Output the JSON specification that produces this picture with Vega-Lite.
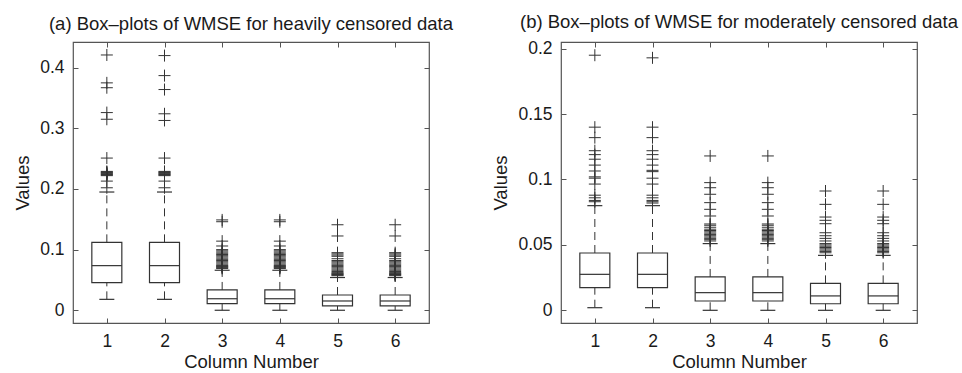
{
  "$schema": "https://vega.github.io/schema/vega-lite/v6.json",
  "background": "white",
  "padding": {"left": 13, "top": 12, "right": 5, "bottom": 5},
  "bounds": "flush",
  "spacing": 132,
  "config": {
    "font": "Liberation Sans",
    "view": {"stroke": "#555", "strokeWidth": 1.2},
    "axis": {
      "labelFont": "Liberation Sans", "labelFontSize": 17.5, "labelColor": "#1a1a1a",
      "titleFont": "Liberation Sans", "titleFontSize": 18.5, "titleColor": "#1a1a1a", "titleFontWeight": "normal",
      "domain": false, "grid": false, "tickColor": "#555", "tickSize": -5, "tickWidth": 1
    },
    "title": {"font": "Liberation Sans", "fontSize": 18.5, "fontWeight": "normal", "color": "#1a1a1a", "baseline": "alphabetic", "offset": 8, "anchor": "middle"}
  },
  "datasets": {
    "boxA": [
      {"col": 1, "lower": 0.018, "q1": 0.0455, "median": 0.0736, "q3": 0.112, "upper": 0.195},
      {"col": 2, "lower": 0.018, "q1": 0.0455, "median": 0.0736, "q3": 0.112, "upper": 0.195},
      {"col": 3, "lower": 0.0, "q1": 0.011, "median": 0.019, "q3": 0.0335, "upper": 0.066},
      {"col": 4, "lower": 0.0, "q1": 0.011, "median": 0.019, "q3": 0.0335, "upper": 0.066},
      {"col": 5, "lower": 0.0, "q1": 0.0071, "median": 0.0153, "q3": 0.0252, "upper": 0.054},
      {"col": 6, "lower": 0.0, "q1": 0.0071, "median": 0.0153, "q3": 0.0252, "upper": 0.054}
    ],
    "outA": [
      {"col": 1, "value": 0.421}, {"col": 1, "value": 0.375}, {"col": 1, "value": 0.367}, {"col": 1, "value": 0.326}, {"col": 1, "value": 0.315}, {"col": 1, "value": 0.251}, {"col": 1, "value": 0.229}, {"col": 1, "value": 0.228}, {"col": 1, "value": 0.227}, {"col": 1, "value": 0.226}, {"col": 1, "value": 0.225}, {"col": 1, "value": 0.224}, {"col": 1, "value": 0.223}, {"col": 1, "value": 0.222}, {"col": 1, "value": 0.213}, {"col": 1, "value": 0.202},
      {"col": 2, "value": 0.420}, {"col": 2, "value": 0.387}, {"col": 2, "value": 0.364}, {"col": 2, "value": 0.324}, {"col": 2, "value": 0.313}, {"col": 2, "value": 0.251}, {"col": 2, "value": 0.229}, {"col": 2, "value": 0.228}, {"col": 2, "value": 0.227}, {"col": 2, "value": 0.226}, {"col": 2, "value": 0.225}, {"col": 2, "value": 0.224}, {"col": 2, "value": 0.223}, {"col": 2, "value": 0.222}, {"col": 2, "value": 0.213}, {"col": 2, "value": 0.202},
      {"col": 3, "value": 0.149}, {"col": 3, "value": 0.146}, {"col": 3, "value": 0.114}, {"col": 3, "value": 0.106}, {"col": 3, "value": 0.100}, {"col": 3, "value": 0.098}, {"col": 3, "value": 0.096}, {"col": 3, "value": 0.094}, {"col": 3, "value": 0.092}, {"col": 3, "value": 0.090}, {"col": 3, "value": 0.088}, {"col": 3, "value": 0.086}, {"col": 3, "value": 0.084}, {"col": 3, "value": 0.082}, {"col": 3, "value": 0.080}, {"col": 3, "value": 0.078}, {"col": 3, "value": 0.076}, {"col": 3, "value": 0.074}, {"col": 3, "value": 0.073}, {"col": 3, "value": 0.072}, {"col": 3, "value": 0.071}, {"col": 3, "value": 0.070}, {"col": 3, "value": 0.069},
      {"col": 4, "value": 0.149}, {"col": 4, "value": 0.146}, {"col": 4, "value": 0.114}, {"col": 4, "value": 0.106}, {"col": 4, "value": 0.100}, {"col": 4, "value": 0.098}, {"col": 4, "value": 0.096}, {"col": 4, "value": 0.094}, {"col": 4, "value": 0.092}, {"col": 4, "value": 0.090}, {"col": 4, "value": 0.088}, {"col": 4, "value": 0.086}, {"col": 4, "value": 0.084}, {"col": 4, "value": 0.082}, {"col": 4, "value": 0.080}, {"col": 4, "value": 0.078}, {"col": 4, "value": 0.076}, {"col": 4, "value": 0.074}, {"col": 4, "value": 0.073}, {"col": 4, "value": 0.072}, {"col": 4, "value": 0.071}, {"col": 4, "value": 0.070}, {"col": 4, "value": 0.069},
      {"col": 5, "value": 0.141}, {"col": 5, "value": 0.1225}, {"col": 5, "value": 0.095}, {"col": 5, "value": 0.093}, {"col": 5, "value": 0.091}, {"col": 5, "value": 0.089}, {"col": 5, "value": 0.085}, {"col": 5, "value": 0.082}, {"col": 5, "value": 0.080}, {"col": 5, "value": 0.078}, {"col": 5, "value": 0.076}, {"col": 5, "value": 0.074}, {"col": 5, "value": 0.072}, {"col": 5, "value": 0.070}, {"col": 5, "value": 0.068}, {"col": 5, "value": 0.066}, {"col": 5, "value": 0.064}, {"col": 5, "value": 0.062}, {"col": 5, "value": 0.061}, {"col": 5, "value": 0.060}, {"col": 5, "value": 0.059}, {"col": 5, "value": 0.058}, {"col": 5, "value": 0.057},
      {"col": 6, "value": 0.141}, {"col": 6, "value": 0.1225}, {"col": 6, "value": 0.095}, {"col": 6, "value": 0.093}, {"col": 6, "value": 0.091}, {"col": 6, "value": 0.089}, {"col": 6, "value": 0.085}, {"col": 6, "value": 0.082}, {"col": 6, "value": 0.080}, {"col": 6, "value": 0.078}, {"col": 6, "value": 0.076}, {"col": 6, "value": 0.074}, {"col": 6, "value": 0.072}, {"col": 6, "value": 0.070}, {"col": 6, "value": 0.068}, {"col": 6, "value": 0.066}, {"col": 6, "value": 0.064}, {"col": 6, "value": 0.062}, {"col": 6, "value": 0.061}, {"col": 6, "value": 0.060}, {"col": 6, "value": 0.059}, {"col": 6, "value": 0.058}, {"col": 6, "value": 0.057}
    ],
    "boxB": [
      {"col": 1, "lower": 0.002, "q1": 0.0173, "median": 0.0275, "q3": 0.0438, "upper": 0.080},
      {"col": 2, "lower": 0.002, "q1": 0.0173, "median": 0.0275, "q3": 0.0438, "upper": 0.080},
      {"col": 3, "lower": 0.0, "q1": 0.0071, "median": 0.0135, "q3": 0.0255, "upper": 0.051},
      {"col": 4, "lower": 0.0, "q1": 0.0071, "median": 0.0135, "q3": 0.0255, "upper": 0.051},
      {"col": 5, "lower": 0.0, "q1": 0.005, "median": 0.011, "q3": 0.0206, "upper": 0.042},
      {"col": 6, "lower": 0.0, "q1": 0.005, "median": 0.011, "q3": 0.0206, "upper": 0.042}
    ],
    "outB": [
      {"col": 1, "value": 0.195}, {"col": 1, "value": 0.140}, {"col": 1, "value": 0.132}, {"col": 1, "value": 0.122}, {"col": 1, "value": 0.119}, {"col": 1, "value": 0.1155}, {"col": 1, "value": 0.111}, {"col": 1, "value": 0.1065}, {"col": 1, "value": 0.102}, {"col": 1, "value": 0.101}, {"col": 1, "value": 0.0965}, {"col": 1, "value": 0.088}, {"col": 1, "value": 0.086}, {"col": 1, "value": 0.084}, {"col": 1, "value": 0.083},
      {"col": 2, "value": 0.193}, {"col": 2, "value": 0.140}, {"col": 2, "value": 0.132}, {"col": 2, "value": 0.122}, {"col": 2, "value": 0.119}, {"col": 2, "value": 0.1155}, {"col": 2, "value": 0.111}, {"col": 2, "value": 0.107}, {"col": 2, "value": 0.106}, {"col": 2, "value": 0.101}, {"col": 2, "value": 0.0965}, {"col": 2, "value": 0.088}, {"col": 2, "value": 0.086}, {"col": 2, "value": 0.084}, {"col": 2, "value": 0.083}, {"col": 2, "value": 0.082},
      {"col": 3, "value": 0.118}, {"col": 3, "value": 0.0976}, {"col": 3, "value": 0.0937}, {"col": 3, "value": 0.0887}, {"col": 3, "value": 0.0823}, {"col": 3, "value": 0.0772}, {"col": 3, "value": 0.0721}, {"col": 3, "value": 0.066}, {"col": 3, "value": 0.065}, {"col": 3, "value": 0.0635}, {"col": 3, "value": 0.062}, {"col": 3, "value": 0.061}, {"col": 3, "value": 0.060}, {"col": 3, "value": 0.059}, {"col": 3, "value": 0.058}, {"col": 3, "value": 0.057}, {"col": 3, "value": 0.056}, {"col": 3, "value": 0.055}, {"col": 3, "value": 0.054}, {"col": 3, "value": 0.053},
      {"col": 4, "value": 0.118}, {"col": 4, "value": 0.0976}, {"col": 4, "value": 0.0937}, {"col": 4, "value": 0.0887}, {"col": 4, "value": 0.0823}, {"col": 4, "value": 0.0772}, {"col": 4, "value": 0.0721}, {"col": 4, "value": 0.066}, {"col": 4, "value": 0.065}, {"col": 4, "value": 0.0635}, {"col": 4, "value": 0.062}, {"col": 4, "value": 0.061}, {"col": 4, "value": 0.060}, {"col": 4, "value": 0.059}, {"col": 4, "value": 0.058}, {"col": 4, "value": 0.057}, {"col": 4, "value": 0.056}, {"col": 4, "value": 0.055}, {"col": 4, "value": 0.054}, {"col": 4, "value": 0.053},
      {"col": 5, "value": 0.0912}, {"col": 5, "value": 0.081}, {"col": 5, "value": 0.0713}, {"col": 5, "value": 0.0688}, {"col": 5, "value": 0.0662}, {"col": 5, "value": 0.0593}, {"col": 5, "value": 0.057}, {"col": 5, "value": 0.055}, {"col": 5, "value": 0.053}, {"col": 5, "value": 0.051}, {"col": 5, "value": 0.050}, {"col": 5, "value": 0.049}, {"col": 5, "value": 0.048}, {"col": 5, "value": 0.047}, {"col": 5, "value": 0.046}, {"col": 5, "value": 0.045}, {"col": 5, "value": 0.044},
      {"col": 6, "value": 0.0912}, {"col": 6, "value": 0.081}, {"col": 6, "value": 0.0713}, {"col": 6, "value": 0.0688}, {"col": 6, "value": 0.0662}, {"col": 6, "value": 0.0593}, {"col": 6, "value": 0.057}, {"col": 6, "value": 0.055}, {"col": 6, "value": 0.053}, {"col": 6, "value": 0.051}, {"col": 6, "value": 0.050}, {"col": 6, "value": 0.049}, {"col": 6, "value": 0.048}, {"col": 6, "value": 0.047}, {"col": 6, "value": 0.046}, {"col": 6, "value": 0.045}, {"col": 6, "value": 0.044}
    ]
  },
  "hconcat": [
    {
      "width": 356, "height": 281,
      "title": {"text": "(a) Box–plots of WMSE for heavily censored data"},
      "resolve": {"axis": {"x": "independent", "y": "independent"}},
      "layer": [
        {
          "data": {"name": "boxA"},
          "mark": {"type": "bar", "size": 30, "fill": "white", "stroke": "#333", "strokeWidth": 1.2},
          "encoding": {
            "x": {"field": "col", "type": "quantitative", "scale": {"domain": [0.5, 6.5], "nice": false, "zero": false},
                  "axis": {"orient": "bottom", "values": [1, 2, 3, 4, 5, 6], "format": "d", "title": "Column Number", "labelPadding": 14, "titlePadding": 3}},
            "y": {"field": "q1", "type": "quantitative", "scale": {"domain": [-0.021, 0.4424], "nice": false, "zero": false},
                  "axis": {"orient": "left", "values": [0, 0.1, 0.2, 0.3, 0.4], "format": "~g", "title": "Values", "labelPadding": 14, "titlePadding": 7}},
            "y2": {"field": "q3"}
          }
        },
        {
          "data": {"name": "outA"},
          "mark": {"type": "point", "shape": "M-1,0H1M0,-1V1", "size": 144, "filled": false, "stroke": "#333", "strokeWidth": 1, "opacity": 1},
          "encoding": {
            "x": {"field": "col", "type": "quantitative", "axis": {"orient": "top", "values": [1, 2, 3, 4, 5, 6], "labels": false, "title": null}},
            "y": {"field": "value", "type": "quantitative", "axis": {"orient": "right", "values": [0, 0.1, 0.2, 0.3, 0.4], "labels": false, "title": null}}
          }
        },
        {
          "data": {"name": "boxA"},
          "mark": {"type": "rule", "stroke": "#333", "strokeWidth": 1, "strokeDash": [8, 5]},
          "encoding": {
            "x": {"field": "col", "type": "quantitative", "axis": null},
            "y": {"field": "q3", "type": "quantitative", "axis": null},
            "y2": {"field": "upper"}
          }
        },
        {
          "data": {"name": "boxA"},
          "mark": {"type": "rule", "stroke": "#333", "strokeWidth": 1, "strokeDash": [8, 5]},
          "encoding": {
            "x": {"field": "col", "type": "quantitative", "axis": null},
            "y": {"field": "lower", "type": "quantitative", "axis": null},
            "y2": {"field": "q1"}
          }
        },
        {
          "data": {"name": "boxA"},
          "mark": {"type": "tick", "orient": "horizontal", "size": 30, "thickness": 1.2, "color": "#333", "opacity": 1},
          "encoding": {
            "x": {"field": "col", "type": "quantitative", "axis": null},
            "y": {"field": "median", "type": "quantitative", "axis": null}
          }
        },
        {
          "data": {"name": "boxA"},
          "mark": {"type": "tick", "orient": "horizontal", "size": 15, "thickness": 1.2, "color": "#333", "opacity": 1},
          "encoding": {
            "x": {"field": "col", "type": "quantitative", "axis": null},
            "y": {"field": "lower", "type": "quantitative", "axis": null}
          }
        },
        {
          "data": {"name": "boxA"},
          "mark": {"type": "tick", "orient": "horizontal", "size": 15, "thickness": 1.2, "color": "#333", "opacity": 1},
          "encoding": {
            "x": {"field": "col", "type": "quantitative", "axis": null},
            "y": {"field": "upper", "type": "quantitative", "axis": null}
          }
        }
      ]
    },
    {
      "width": 356, "height": 281,
      "title": {"text": "(b) Box–plots of WMSE for moderately censored data"},
      "resolve": {"axis": {"x": "independent", "y": "independent"}},
      "layer": [
        {
          "data": {"name": "boxB"},
          "mark": {"type": "bar", "size": 30, "fill": "white", "stroke": "#333", "strokeWidth": 1.2},
          "encoding": {
            "x": {"field": "col", "type": "quantitative", "scale": {"domain": [0.5, 6.5], "nice": false, "zero": false},
                  "axis": {"orient": "bottom", "values": [1, 2, 3, 4, 5, 6], "format": "d", "title": "Column Number", "labelPadding": 14, "titlePadding": 3}},
            "y": {"field": "q1", "type": "quantitative", "scale": {"domain": [-0.0097, 0.2051], "nice": false, "zero": false},
                  "axis": {"orient": "left", "values": [0, 0.05, 0.1, 0.15, 0.2], "format": "~g", "title": "Values", "labelPadding": 14, "titlePadding": 7}},
            "y2": {"field": "q3"}
          }
        },
        {
          "data": {"name": "outB"},
          "mark": {"type": "point", "shape": "M-1,0H1M0,-1V1", "size": 144, "filled": false, "stroke": "#333", "strokeWidth": 1, "opacity": 1},
          "encoding": {
            "x": {"field": "col", "type": "quantitative", "axis": {"orient": "top", "values": [1, 2, 3, 4, 5, 6], "labels": false, "title": null}},
            "y": {"field": "value", "type": "quantitative", "axis": {"orient": "right", "values": [0, 0.05, 0.1, 0.15, 0.2], "labels": false, "title": null}}
          }
        },
        {
          "data": {"name": "boxB"},
          "mark": {"type": "rule", "stroke": "#333", "strokeWidth": 1, "strokeDash": [8, 5]},
          "encoding": {
            "x": {"field": "col", "type": "quantitative", "axis": null},
            "y": {"field": "q3", "type": "quantitative", "axis": null},
            "y2": {"field": "upper"}
          }
        },
        {
          "data": {"name": "boxB"},
          "mark": {"type": "rule", "stroke": "#333", "strokeWidth": 1, "strokeDash": [8, 5]},
          "encoding": {
            "x": {"field": "col", "type": "quantitative", "axis": null},
            "y": {"field": "lower", "type": "quantitative", "axis": null},
            "y2": {"field": "q1"}
          }
        },
        {
          "data": {"name": "boxB"},
          "mark": {"type": "tick", "orient": "horizontal", "size": 30, "thickness": 1.2, "color": "#333", "opacity": 1},
          "encoding": {
            "x": {"field": "col", "type": "quantitative", "axis": null},
            "y": {"field": "median", "type": "quantitative", "axis": null}
          }
        },
        {
          "data": {"name": "boxB"},
          "mark": {"type": "tick", "orient": "horizontal", "size": 15, "thickness": 1.2, "color": "#333", "opacity": 1},
          "encoding": {
            "x": {"field": "col", "type": "quantitative", "axis": null},
            "y": {"field": "lower", "type": "quantitative", "axis": null}
          }
        },
        {
          "data": {"name": "boxB"},
          "mark": {"type": "tick", "orient": "horizontal", "size": 15, "thickness": 1.2, "color": "#333", "opacity": 1},
          "encoding": {
            "x": {"field": "col", "type": "quantitative", "axis": null},
            "y": {"field": "upper", "type": "quantitative", "axis": null}
          }
        }
      ]
    }
  ]
}
